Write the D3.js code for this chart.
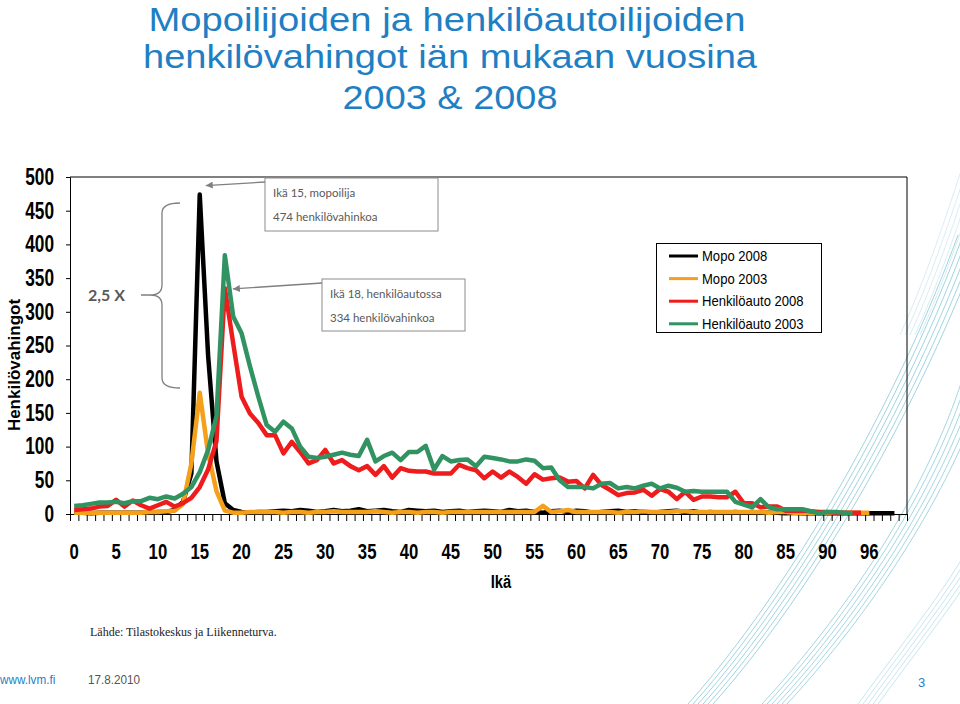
<!DOCTYPE html>
<html><head><meta charset="utf-8">
<script src="https://cdn.jsdelivr.net/npm/d3@7"></script>
<style>body{margin:0;background:#fff}svg{display:block}</style>
</head><body>
<svg id="c" width="960" height="704"></svg>
<script>
// ---------- data ----------
const titleLines = ["Mopoilijoiden ja henkilöautoilijoiden", "henkilövahingot iän mukaan vuosina", "2003 & 2008"];
const ages = d3.range(0, 91).concat(d3.range(92, 101)); // 100 age categories
const xTickIdx = [0,5,10,15,20,25,30,35,40,45,50,55,60,65,70,75,80,85,90,95];
const xTickLabels = ["0","5","10","15","20","25","30","35","40","45","50","55","60","65","70","75","80","85","90","96"];
const yTicks = [0,50,100,150,200,250,300,350,400,450,500];
const seriesNames = ["Mopo 2008","Mopo 2003","Henkilöauto 2008","Henkilöauto 2003"];
const seriesColors = ["#000000","#f5a01a","#ee1c1c","#319262"];

const mopo2008 = [2,2,1,2,2,2,2,2,2,2,3,3,6,
  18,60,474,235,78,16,
  6,3,2,3,3,4,5,4,6,5, 3,4,6,4,5,7,4,5,6,4, 3,6,5,4,5,3,4,5,3,4, 5,4,3,6,4,5,3,2,4,5,
  3,5,4,2,3,4,5,3,4,3, 2,3,4,5,3,4,2,3,2,2, 3,2,3,2,2,2,1,2,1,1, 1,1,1,1,1,1,1,1,1,1];
const mopo2003 = [2,2,2,2,2,2,2,2,2,3,3,4,5,
  15,75,180,90,34,5,
  2,2,3,3,3,3,2,3,3,2, 3,3,4,3,3,3,3,4,3,2, 3,3,2,3,3,2,3,3,3,3, 3,3,3,3,3,3,3,12,3,4,
  6,3,3,3,3,3,2,3,3,4, 3,3,3,4,4,3,3,3,3,3, 3,3,3,3,2,3,3,2,2,2, 2,2,2,2,2,2,2];
const auto2008 = [6,7,8,11,12,21,11,20,13,8, 13,18,11,16,24,40,66,108,335,253,
  174,149,135,117,117,90,107,92,75,80, 95,75,80,71,65,71,58,71,54,68,
  64,63,63,60,60,60,73,68,65,53, 63,54,63,55,45,59,51,53,54,48,
  49,38,58,43,36,28,31,32,36,27, 37,33,22,33,21,26,26,25,25,33,
  16,16,10,11,11,5,5,5,4,3, 3,2,2,2,2];
const auto2003 = [12,13,15,17,17,18,16,19,19,24, 22,26,23,30,40,62,95,145,384,293,
  268,219,174,132,122,137,127,100,85,83, 85,88,91,88,86,110,78,86,91,80,
  92,92,101,66,86,78,80,81,71,85, 83,81,78,78,81,79,68,69,50,40,
  40,40,38,45,46,38,40,38,42,45, 38,42,39,33,34,33,33,33,33,18,
  14,10,22,10,7,7,7,7,4,1, 3,3,2,1];
const seriesValues = [mopo2008, mopo2003, auto2008, auto2003];

const annoLines1 = ["Ikä 15, mopoilija", "474 henkilövahinkoa"];
const annoLines2 = ["Ikä 18, henkilöautossa", "334 henkilövahinkoa"];

// ---------- setup ----------
const svg = d3.select("#c");
const L = 70, R = 907, T = 177, B = 514;
const NAR = "'Liberation Sans', Arial, sans-serif";
function condense(sel, f) {
  sel.each(function () {
    const w = this.getComputedTextLength();
    d3.select(this).attr("textLength", w * f).attr("lengthAdjust", "spacingAndGlyphs");
  });
}

// decorative background curves
const deco = svg.append("g").attr("fill", "none").attr("stroke", "#72bfd1").attr("stroke-width", 0.8);
const bands = [
  {p: [[688,704],[790,590],[898,400],[958,235]], n: 6, op: 0.85},
  {p: [[762,704],[858,600],[930,480],[962,380]], n: 6, op: 0.8},
  {p: [[858,704],[905,640],[945,590],[970,545]], n: 5, op: 0.5},
  {p: [[900,335],[925,280],[945,220],[962,168]], n: 5, op: 0.35}
];
bands.forEach(b => {
  for (let k = 0; k < b.n; k++) {
    const o = k * 5;
    const [a, c1, c2, e] = b.p;
    deco.append("path").attr("opacity", b.op)
      .attr("d", `M${a[0]+o},${a[1]} C${c1[0]+o},${c1[1]} ${c2[0]+o},${c2[1]} ${e[0]+o},${e[1]}`);
  }
});

// title
svg.append("g").selectAll("text").data(titleLines).join("text")
  .attr("x", (d, i) => [447, 450, 450][i])
  .attr("y", (d, i) => [31, 68, 109][i])
  .attr("text-anchor", "middle")
  .attr("fill", "#1f7fc4")
  .style("font-family", NAR).style("font-size", "34px")
  .text(d => d)
  .attr("textLength", (d, i) => [597, 614, 215][i])
  .attr("lengthAdjust", "spacingAndGlyphs");

// scales
const xBand = d3.scaleBand().domain(d3.range(ages.length)).range([L, R]).padding(0);
const xc = i => xBand(i) + xBand.bandwidth() / 2;
const xEdge = d3.scaleLinear().domain([0, ages.length]).range([L, R]);
const y = d3.scaleLinear().domain([0, 500]).range([B, T]);

// plot frame
svg.append("path").attr("fill", "none").attr("stroke", "#000").attr("stroke-width", 1)
  .attr("d", `M${L},${T}H${R}V${B}`);

// y axis
const yAx = svg.append("g").attr("transform", `translate(${L},0)`)
  .call(d3.axisLeft(y).tickValues(yTicks).tickSize(4).tickPadding(12));
yAx.select(".domain").attr("stroke", "#000");
yAx.selectAll("text").style("font-family", NAR).style("font-size", "23px").style("font-weight", "bold").attr("fill", "#000");
condense(yAx.selectAll("text"), 0.75);

// x axis ticks (category boundaries)
const xAx = svg.append("g").attr("transform", `translate(0,${B})`)
  .call(d3.axisBottom(xEdge).tickValues(d3.range(0, ages.length + 1)).tickSize(7).tickFormat(""));
xAx.select(".domain").attr("stroke", "#000");
// x labels
const xLab = svg.append("g").attr("transform", `translate(0,${B})`)
  .call(d3.axisBottom(xBand).tickValues(xTickIdx).tickSize(0).tickPadding(29)
    .tickFormat(i => xTickLabels[xTickIdx.indexOf(i)]));
xLab.select(".domain").remove();
xLab.selectAll("text").style("font-family", NAR).style("font-size", "22px").style("font-weight", "bold").attr("fill", "#000");
condense(xLab.selectAll("text"), 0.76);

// axis titles
svg.append("text").attr("transform", "translate(20,365) rotate(-90)")
  .attr("text-anchor", "middle").style("font-family", NAR).style("font-size", "17px").style("font-weight", "bold")
  .text("Henkilövahingot");
const xt = svg.append("text").attr("x", 501).attr("y", 588).attr("text-anchor", "middle")
  .style("font-family", NAR).style("font-size", "18px").style("font-weight", "bold").text("Ikä");
condense(xt, 0.82);

// lines
const line = d3.line().x((d, i) => xc(i)).y(d => y(d)).curve(d3.curveLinear);
svg.append("g").selectAll("path").data(seriesValues).join("path")
  .attr("fill", "none")
  .attr("stroke", (d, i) => seriesColors[i])
  .attr("stroke-width", 4.5)
  .attr("stroke-linejoin", "round")
  .attr("d", d => line(d));

// annotations
const gray = "#7f7f7f";
const defs = svg.append("defs");
defs.append("marker").attr("id", "ah").attr("viewBox", "0 0 10 10").attr("refX", 10).attr("refY", 5)
  .attr("markerWidth", 9).attr("markerHeight", 7).attr("markerUnits", "userSpaceOnUse").attr("orient", "auto")
  .append("path").attr("d", "M0,0L10,5L0,10z").attr("fill", gray);

function annoBox(x, y0, w, h, lines, tip) {
  svg.append("rect").attr("x", x).attr("y", y0).attr("width", w).attr("height", h)
    .attr("fill", "#fff").attr("stroke", "#8c8c8c").attr("stroke-width", 1);
  svg.append("g").selectAll("text").data(lines).join("text")
    .attr("x", x + 8).attr("y", (d, i) => y0 + 19 + i * 24)
    .attr("fill", "#595959").style("font-family", "Lato, 'Open Sans', sans-serif").style("font-size", "11.5px")
    .text(d => d);
  svg.append("line").attr("x1", x).attr("y1", y0 + 4).attr("x2", tip[0]).attr("y2", tip[1])
    .attr("stroke", gray).attr("stroke-width", 1.3).attr("marker-end", "url(#ah)");
}
annoBox(265, 178, 173, 53, annoLines1, [xc(15) + 6, y(474) - 9]);
annoBox(322, 279, 143, 52, annoLines2, [xc(18) + 8, y(334)]);

// brace and "2,5 X"
svg.append("path").attr("fill", "none").attr("stroke", gray).attr("stroke-width", 1.3)
  .attr("d", "M180,203 Q162,203 162,213 L162,285 Q162,295 150,295 Q162,295 162,305 L162,378 Q162,388 180,388 M141,295 L150,295");
svg.append("text").attr("x", 88).attr("y", 301).attr("fill", "#595959")
  .style("font-family", "Lato, 'Open Sans', sans-serif").style("font-size", "16px").style("font-weight", "bold")
  .text("2,5 X");

// legend
const lg = svg.append("g");
lg.append("rect").attr("x", 656.5).attr("y", 243.5).attr("width", 165).attr("height", 89)
  .attr("fill", "#fff").attr("stroke", "#000").attr("stroke-width", 1);
const rows = lg.selectAll("g.row").data(seriesNames).join("g").attr("class", "row")
  .attr("transform", (d, i) => `translate(0,${256 + i * 22.6})`);
rows.append("line").attr("x1", 669).attr("x2", 698).attr("stroke", (d, i) => seriesColors[i]).attr("stroke-width", 3);
const lt = rows.append("text").attr("x", 702).attr("dy", "0.35em").style("font-family", NAR).style("font-size", "14.5px")
  .attr("fill", "#000").text(d => d);
condense(lt, 0.9);

// source + footer
svg.append("text").attr("x", 90).attr("y", 636).style("font-family", "'Liberation Serif', 'Times New Roman', serif")
  .style("font-size", "12px").attr("fill", "#222").text("Lähde: Tilastokeskus ja Liikenneturva.");
const f1 = svg.append("text").attr("x", 0).attr("y", 684).style("font-family", NAR).style("font-size", "13px")
  .attr("fill", "#1f7fc4").text("www.lvm.fi");
condense(f1, 0.9);
const f2 = svg.append("text").attr("x", 88).attr("y", 684).style("font-family", NAR).style("font-size", "13px")
  .attr("fill", "#555").text("17.8.2010");
condense(f2, 0.9);
svg.append("text").attr("x", 918).attr("y", 687).style("font-family", NAR).style("font-size", "13px")
  .attr("fill", "#1f7fc4").text("3");
</script>
</body></html>
